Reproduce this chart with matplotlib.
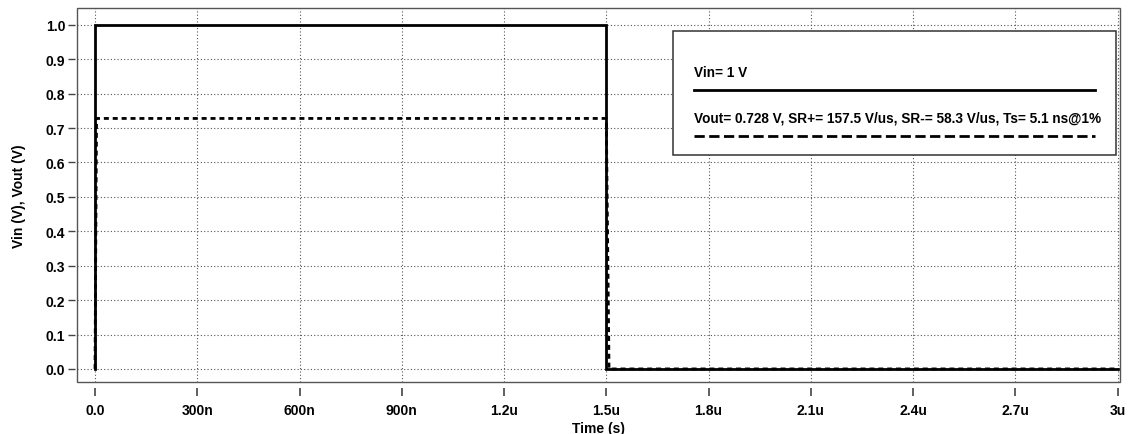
import matplotlib
matplotlib.use("Agg")
import matplotlib.pyplot as plt
from matplotlib.lines import Line2D
from matplotlib.patches import Rectangle

plt.rcParams['font.family'] = ['Liberation Sans', 'DejaVu Sans']
plt.rcParams['font.weight'] = 'bold'

# Transient waveforms (time in seconds, voltage in volts)
t_in = [0.0, 0.0, 1.5e-6, 1.5e-6, 3.0e-6]
v_in = [0.0, 1.0, 1.0, 0.0, 0.0]
t_out = [0.0, 4.6e-9, 1.5e-6, 1.508e-6, 3.0e-6]
v_out = [0.0, 0.728, 0.728, 0.0, 0.0]

label_in = "Vin= 1 V"
label_out = "Vout= 0.728 V, SR+= 157.5 V/us, SR-= 58.3 V/us, Ts= 5.1 ns@1%"

x_ticks = [0.0, 0.3e-6, 0.6e-6, 0.9e-6, 1.2e-6, 1.5e-6, 1.8e-6, 2.1e-6, 2.4e-6, 2.7e-6, 3.0e-6]
x_tick_labels = ["0.0", "300n", "600n", "900n", "1.2u", "1.5u", "1.8u", "2.1u", "2.4u", "2.7u", "3u"]
y_ticks = [0.0, 0.1, 0.2, 0.3, 0.4, 0.5, 0.6, 0.7, 0.8, 0.9, 1.0]
y_tick_labels = ["%.1f" % v for v in y_ticks]

FS = 10
W, H = 1129, 435
fig = plt.figure(figsize=(W / 100, H / 100), dpi=100)
ax = fig.add_axes([77 / W, 1 - 383 / H, (1120 - 77) / W, (383 - 9) / H])

lw = 2.0
ax.plot(t_in, v_in, color='black', lw=lw, solid_joinstyle='miter', label=label_in, zorder=3)
ax.plot(t_out, v_out, color='black', lw=lw, linestyle=(0, (1.8, 1.4)), label=label_out, zorder=3)

ax.set_xlim(-0.0528e-6, 3.007e-6)
ax.set_ylim(-0.038, 1.049)

ax.set_xticks(x_ticks)
ax.set_yticks(y_ticks)

ax.grid(True, color='#555555', linestyle=(0, (1, 2)), lw=0.8)

# Frame around plotting area
for s in ax.spines:
    ax.spines[s].set_visible(False)
ax.add_patch(Rectangle((0, 0), 1, 1, transform=ax.transAxes, fill=False,
                       edgecolor='#555555', lw=1.0, zorder=4, clip_on=False))

# Separate axis lines, offset from the frame
ax2 = fig.add_axes(ax.get_position(), frameon=False)
ax2.set_xlim(ax.get_xlim())
ax2.set_ylim(ax.get_ylim())
ax2.patch.set_visible(False)
for s in ['top', 'right']:
    ax2.spines[s].set_visible(False)
ax2.spines['left'].set_visible(True)
ax2.spines['bottom'].set_visible(True)
ax2.spines['left'].set_position(('outward', 1.5))
ax2.spines['bottom'].set_position(('outward', 4))
for s in ['left', 'bottom']:
    ax2.spines[s].set_color('#222222')
    ax2.spines[s].set_linewidth(1.2)
ax2.set_xticks(x_ticks)
ax2.set_xticklabels(x_tick_labels)
ax2.set_yticks(y_ticks)
ax2.set_yticklabels(y_tick_labels)
ax2.tick_params(axis='x', length=6, width=1.2, color='#444444', pad=5, labelsize=FS)
ax2.tick_params(axis='y', length=5, width=1.0, color='#444444', pad=2, labelsize=FS)
ax.tick_params(left=False, bottom=False, labelleft=False, labelbottom=False)
ax2.set_xlabel("Time (s)", fontsize=FS, fontweight='bold', labelpad=3)
ax2.set_ylabel("Vin (V), Vout (V)", fontsize=FS, fontweight='bold', labelpad=14)

# Legend box with text above each line sample
x0, x1 = 673 / W, 1116 / W
y0, y1 = 1 - 156 / H, 1 - 32 / H
fig.add_artist(Rectangle((x0, y0), x1 - x0, y1 - y0, transform=fig.transFigure,
                         facecolor='white', edgecolor='#333333', lw=1.1, zorder=5))
lx0, lx1 = 694 / W, 1095 / W
lines = ax.get_lines()
rows = [(77.3, 91), (122.3, 137)]
for line, (ty, ly) in zip(lines, rows):
    fig.text(lx0, 1 - ty / H, line.get_label(), fontsize=9.8, fontweight='bold',
             va='baseline', ha='left', zorder=6)
    fig.add_artist(Line2D([lx0, lx1], [1 - ly / H, 1 - ly / H], transform=fig.transFigure,
                          color='black', lw=line.get_linewidth(),
                          linestyle=line.get_linestyle(), zorder=6))

fig.savefig("out.png", dpi=100)
